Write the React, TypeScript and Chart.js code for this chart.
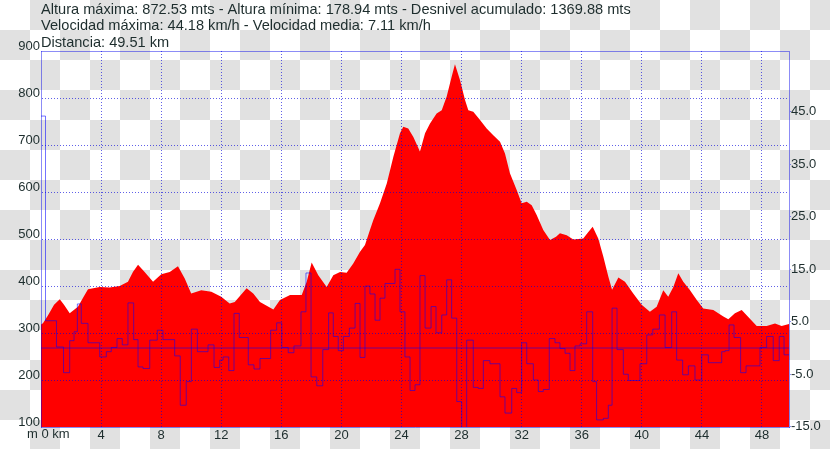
import React, { useEffect, useRef } from "react";
import { Chart, registerables } from "chart.js";

Chart.register(...registerables);

// ---------- data ----------
const summaryLines = [
  "Altura máxima: 872.53 mts - Altura mínima: 178.94 mts - Desnivel acumulado: 1369.88 mts",
  "Velocidad máxima: 44.18 km/h - Velocidad media: 7.11 km/h",
  "Distancia: 49.51 km",
];

const elevKm = [
  0.0, 0.13, 0.47, 0.87, 1.25, 1.53, 1.91, 2.46, 2.8, 3.13, 3.91, 4.57, 5.24, 5.79, 6.12, 6.46,
  6.9, 7.46, 8.01, 8.57, 9.12, 9.57, 10.0, 10.67, 11.34, 12.0, 12.56, 12.9, 13.69, 14.13, 14.58,
  15.47, 15.91, 16.58, 17.36, 17.69, 18.02, 18.46, 19.02, 19.46, 19.91, 20.35, 20.79, 21.24,
  21.57, 21.9, 22.12, 22.57, 23.02, 23.46, 23.9, 24.12, 24.45, 24.79, 25.23, 25.57, 25.9, 26.34,
  26.68, 27.01, 27.34, 27.56, 27.9, 28.23, 28.45, 28.78, 29.23, 29.67, 30.11, 30.56, 30.89,
  31.22, 31.67, 32.0, 32.34, 32.67, 33.0, 33.44, 33.89, 34.29, 34.55, 35.0, 35.44, 36.1, 36.44,
  36.73, 37.1, 37.44, 37.77, 38.02, 38.44, 38.88, 39.43, 39.99, 40.54, 40.99, 41.43, 41.76,
  42.1, 42.43, 42.76, 43.21, 43.66, 44.09, 44.76, 45.43, 45.76, 46.2, 46.65, 46.98, 47.65,
  48.31, 48.87, 49.31, 49.8,
];
const elevM = [
  318, 321, 338, 360, 372, 360, 342, 356, 375, 393, 398, 397, 400, 409, 430, 445,
  430, 409, 425, 430, 442, 416, 384, 391, 388, 377, 363, 366, 395, 384, 366,
  350, 370, 381, 381, 409, 450, 423, 398, 423, 430, 428, 448, 473,
  487, 519, 540, 576, 618, 675, 725, 739, 735, 717, 686, 725, 746, 767,
  774, 803, 845, 872, 838, 796, 774, 771, 753, 735, 721, 707, 682,
  640, 604, 576, 579, 572, 551, 519, 498, 505, 512, 508, 499, 501, 515,
  526, 501, 462, 420, 392, 418, 409, 384, 360, 345, 356, 391, 377,
  398, 427, 409, 391, 370, 352, 349, 335, 329, 342, 349, 338, 315,
  315, 320, 315, 319,
];

const speedKm = [
  0.0, 0.3, 1.03, 1.5, 1.91, 2.2, 2.42, 2.68, 3.13, 3.91, 4.35, 4.68, 5.06, 5.41, 5.79, 6.17,
  6.46, 6.79, 7.24, 7.74, 8.12, 8.9, 9.27, 9.67, 10.01, 10.41, 11.12, 11.52, 11.9, 12.12, 12.5,
  12.85, 13.2, 13.8, 14.18, 14.58, 15.29, 15.69, 16.03, 16.46, 16.84, 17.31, 17.64, 17.98,
  18.36, 18.76, 19.15, 19.46, 19.79, 20.13, 20.53, 20.91, 21.24, 21.57, 21.9, 22.24, 22.57,
  22.9, 23.57, 23.9, 24.23, 24.57, 24.9, 25.23, 25.57, 25.97, 26.3, 26.68, 27.01, 27.34, 27.68,
  28.01, 28.34, 28.78, 29.11, 29.45, 29.89, 30.56, 30.89, 31.34, 31.67, 32.0, 32.34, 32.78,
  33.11, 33.44, 33.84, 34.22, 34.55, 34.89, 35.22, 35.55, 35.89, 36.33, 36.73, 36.99, 37.44,
  37.77, 38.02, 38.35, 38.77, 39.1, 39.88, 40.33, 40.73, 41.17, 41.55, 41.99, 42.32, 42.72,
  43.1, 43.54, 43.99, 44.43, 45.32, 45.54, 45.81, 46.14, 46.58, 46.94, 47.87, 48.31, 48.75,
  49.15, 49.47, 49.8,
];
const speedKmh = [
  44.2, 5.2, 0.2, -4.7, 1.4, 3.1, 8.4, 4.7, 1.0, -1.7, -0.7, 0.1, 1.8, 0.6, 8.6, 1.6,
  -3.6, -3.9, 1.5, 3.4, 1.6, -1.5, -10.9, -6.4, 3.6, -0.7, 0.6, -3.7, -2.3, -1.7, -4.3,
  6.6, 2.0, -3.2, -4.0, -2.0, 3.4, 4.8, 0.1, -0.9, 0.4, 6.9, 14.3, -5.5,
  -7.2, -0.3, 6.7, 2.2, -0.5, 2.2, 3.8, 8.5, -1.8, 11.8, 10.3, 5.3, 9.5,
  12.3, 15.0, 6.9, -1.7, -8.1, -7.0, 13.8, 3.8, 7.9, 2.9, 6.3, 13.0, 5.7, -10.2,
  -15.2, 1.5, -7.5, -7.7, -2.4, -3.0, -9.3, -12.4, -7.7, -8.5, 1.0, -3.0, -6.1,
  -8.3, -7.9, 1.8, 1.0, -0.1, -1.0, -4.3, 0.4, 0.8, 6.9, -6.4, -13.7, -13.4,
  -10.9, 7.6, -0.3, -5.0, -6.2, -3.0, 2.5, 3.6, 6.3, 0.1, 6.9, -2.3, -5.1,
  -3.4, -6.1, -1.3, -2.8, -0.7, -0.5, 4.4, 2.0, -4.7, -3.4, 0.1, 2.2, -2.4,
  2.2, -1.3, -1.3,
];

const distanceTicks = [4, 8, 12, 16, 20, 24, 28, 32, 36, 40, 44, 48];
const altitudeTicks = [100, 200, 300, 400, 500, 600, 700, 800, 900];
const speedTicks = [-15, -5, 5, 15, 25, 35, 45];

const X_MAX = 49.8;
const ALT_MIN = 100;
const ALT_MAX = 900;
const SPEED_MIN = -15.05;
const SPEED_MAX = 56.6;

const FONT = "'Liberation Sans', Arial, sans-serif";
const TEXT_COLOR = "#1d2d2d";
const GRID_COLOR = "rgba(0,0,220,0.62)";
const BORDER_COLOR = "rgba(0,0,235,0.45)";
const SPEED_COLOR = "rgba(0,0,255,0.55)";

const checkerPlugin = {
  id: "checker",
  beforeDraw(chart: any) {
    const { ctx, width, height } = chart;
    ctx.save();
    ctx.fillStyle = "#ffffff";
    ctx.fillRect(0, 0, width, height);
    ctx.fillStyle = "#e1e1e1";
    const s = 30;
    for (let r = 0; r * s < height; r++) {
      for (let c = 0; c * s < width; c++) {
        if ((r + c) % 2 === 1) ctx.fillRect(c * s, r * s, s, s);
      }
    }
    ctx.restore();
  },
};

const textPlugin = {
  id: "texts",
  afterDraw(chart: any) {
    const { ctx, chartArea } = chart;
    ctx.save();
    ctx.strokeStyle = BORDER_COLOR;
    ctx.lineWidth = 1;
    ctx.beginPath();
    ctx.moveTo(chartArea.left, chartArea.top + 0.5);
    ctx.lineTo(chartArea.right, chartArea.top + 0.5);
    ctx.stroke();

    ctx.fillStyle = TEXT_COLOR;
    ctx.font = `14.6px ${FONT}`;
    ctx.textAlign = "left";
    ctx.textBaseline = "alphabetic";
    const baselines = [13.5, 29.5, 47];
    summaryLines.forEach((t, i) => ctx.fillText(t, 41, baselines[i]));
    ctx.font = `13px ${FONT}`;
    ctx.textBaseline = "middle";
    ctx.fillText("m 0 km", 27, 434);
    ctx.restore();
  },
};

export default function App() {
  const ref = useRef<HTMLCanvasElement | null>(null);

  useEffect(() => {
    document.body.style.margin = "0";
    const canvas = ref.current;
    if (!canvas) return;
    const chart = new Chart(canvas, {
      type: "line",
      data: {
        datasets: [
          {
            label: "Velocidad",
            data: speedKm.map((x, i) => ({ x, y: speedKmh[i] })),
            yAxisID: "ySpeed",
            stepped: "before",
            borderColor: SPEED_COLOR,
            borderWidth: 1,
            pointRadius: 0,
            fill: false,
            order: 0,
          },
          {
            label: "Cero",
            data: [
              { x: 0, y: 0 },
              { x: X_MAX, y: 0 },
            ],
            yAxisID: "ySpeed",
            borderColor: SPEED_COLOR,
            borderWidth: 1,
            pointRadius: 0,
            fill: false,
            order: 1,
          },
          {
            label: "Altura",
            data: elevKm.map((x, i) => ({ x, y: elevM[i] })),
            yAxisID: "yAlt",
            borderWidth: 0,
            borderColor: "#ff0000",
            backgroundColor: "#ff0000",
            pointRadius: 0,
            fill: "start",
            tension: 0,
            order: 2,
          },
        ],
      },
      options: {
        responsive: false,
        animation: false,
        devicePixelRatio: 1,
        layout: { padding: { top: 51, left: 0, right: 0, bottom: 0 } },
        plugins: {
          legend: { display: false },
          tooltip: { enabled: false },
          title: { display: false },
        },
        scales: {
          x: {
            type: "linear",
            min: 0,
            max: X_MAX,
            afterBuildTicks: (s: any) => {
              s.ticks = distanceTicks.map((v) => ({ value: v }));
            },
            afterFit: (s: any) => {
              s.height = 22;
            },
            ticks: {
              autoSkip: false,
              maxRotation: 0,
              padding: 1,
              color: TEXT_COLOR,
              font: { family: FONT, size: 13 },
              callback: (v: any) => String(v),
            },
            grid: { color: GRID_COLOR, lineWidth: 1, drawTicks: false, z: 1 },
            border: { display: true, color: BORDER_COLOR, width: 1, dash: [1, 2], z: 1 },
          },
          yAlt: {
            type: "linear",
            position: "left",
            min: ALT_MIN,
            max: ALT_MAX,
            afterBuildTicks: (s: any) => {
              s.ticks = altitudeTicks.map((v) => ({ value: v }));
            },
            afterFit: (s: any) => {
              s.width = 41;
            },
            ticks: {
              padding: 1,
              labelOffset: -5,
              color: TEXT_COLOR,
              font: { family: FONT, size: 13 },
              callback: (v: any) => String(v),
            },
            grid: {
              color: (c: any) =>
                c.tick && (c.tick.value === ALT_MIN || c.tick.value === ALT_MAX)
                  ? "rgba(0,0,0,0)"
                  : GRID_COLOR,
              lineWidth: 1,
              drawTicks: false,
              z: 1,
            },
            border: { display: true, color: BORDER_COLOR, width: 1, dash: [1, 2], z: 1 },
          },
          ySpeed: {
            type: "linear",
            position: "right",
            min: SPEED_MIN,
            max: SPEED_MAX,
            afterBuildTicks: (s: any) => {
              s.ticks = speedTicks.map((v) => ({ value: v }));
            },
            afterFit: (s: any) => {
              s.width = 41;
            },
            ticks: {
              padding: 0,
              color: TEXT_COLOR,
              font: { family: FONT, size: 13 },
              callback: (v: any) => Number(v).toFixed(1),
            },
            grid: {
              drawOnChartArea: false,
              drawTicks: true,
              tickLength: 2,
              tickColor: BORDER_COLOR,
              color: BORDER_COLOR,
            },
            border: { display: true, color: BORDER_COLOR, width: 1, z: 1 },
          },
        },
      },
      plugins: [checkerPlugin, textPlugin],
    });
    return () => chart.destroy();
  }, []);

  return <canvas ref={ref} width={830} height={449} style={{ display: "block" }} />;
}
